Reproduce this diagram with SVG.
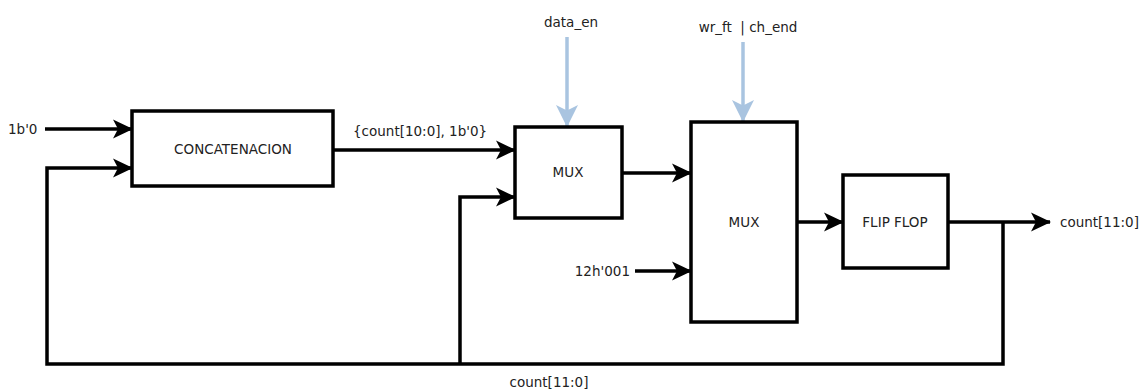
<svg xmlns="http://www.w3.org/2000/svg" width="1146" height="392" viewBox="0 0 1146 392">
<style>
.box{fill:#fff;stroke:#000;stroke-width:3.5}
.w{fill:none;stroke:#000;stroke-width:3.5}
.c{fill:none;stroke:#a9c4e0;stroke-width:3.5}
text{font-family:"DejaVu Sans",Verdana,sans-serif;font-size:13.5px;fill:#222}
.m{text-anchor:middle}
</style>
<defs>
<marker id="ab" markerUnits="userSpaceOnUse" markerWidth="20" markerHeight="20" viewBox="0 0 20 20" refX="19" refY="10" orient="auto">
<path d="M0,0.5 L20,10 L0,19.5 L5,10 z" fill="#000"/>
</marker>
<marker id="ac" markerUnits="userSpaceOnUse" markerWidth="22" markerHeight="22" viewBox="0 0 20 20" refX="19" refY="10" orient="auto">
<path d="M0,0 L20,10 L0,20 L5,10 z" fill="#a9c4e0"/>
</marker>
</defs>
<rect width="1146" height="392" fill="#fff"/>
<g id="connectors">
<path class="w" d="M45,129 L132,129" marker-end="url(#ab)"/>
<path class="w" d="M1003,222 L1003,364 L47,364 L47,168 L132,168" marker-end="url(#ab)"/>
<path class="w" d="M460,364 L460,197 L515,197" marker-end="url(#ab)"/>
<path class="w" d="M333,150 L515,150" marker-end="url(#ab)"/>
<path class="w" d="M622,173 L691,173" marker-end="url(#ab)"/>
<path class="w" d="M635,271 L691,271" marker-end="url(#ab)"/>
<path class="w" d="M797,222 L843,222" marker-end="url(#ab)"/>
<path class="w" d="M948,222 L1050,222" marker-end="url(#ab)"/>
<path class="c" d="M567,37 L567,126" marker-end="url(#ac)"/>
<path class="c" d="M743,42 L743,121" marker-end="url(#ac)"/>
<text x="8" y="134">1b'0</text>
<text x="353" y="136">{count[10:0], 1b'0}</text>
<text x="571" y="27" class="m">data_en</text>
<text x="748" y="32" class="m">wr_ft&#160; | ch_end</text>
<text x="630" y="276" text-anchor="end">12h'001</text>
<text x="1060" y="227">count[11:0]</text>
<text x="549" y="387" class="m">count[11:0]</text>
</g>
<g id="concat">
<rect class="box" x="132" y="111" width="201" height="75"/>
<text x="233" y="154" class="m">CONCATENACION</text>
</g>
<g id="mux1">
<rect class="box" x="515" y="127" width="107" height="91"/>
<text x="568" y="177" class="m">MUX</text>
</g>
<g id="mux2">
<rect class="box" x="691" y="122" width="106" height="200"/>
<text x="744" y="227" class="m">MUX</text>
</g>
<g id="flipflop">
<rect class="box" x="843" y="175" width="105" height="93"/>
<text x="895" y="227" class="m">FLIP FLOP</text>
</g>
</svg>
